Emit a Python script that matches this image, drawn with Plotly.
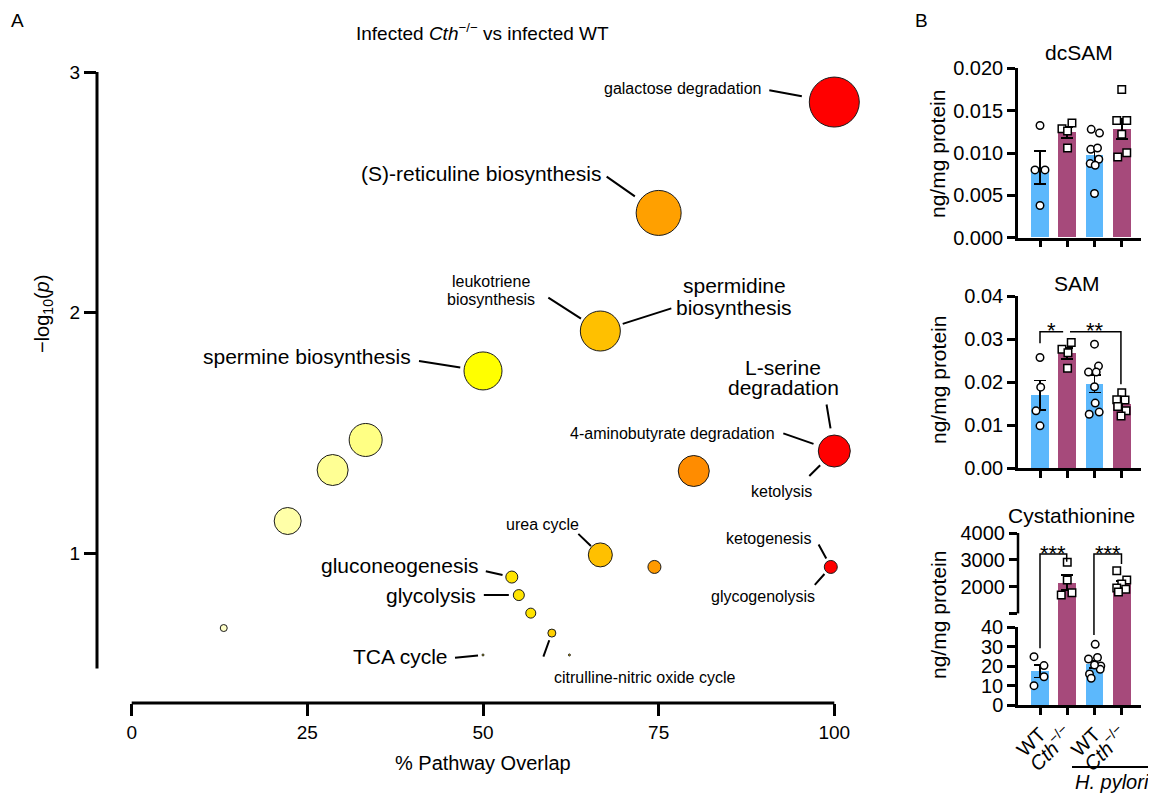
import numpy as np
import plotly.graph_objects as go

FONT = "Liberation Sans, Arial, Helvetica, sans-serif"
# the page body has an 8px margin, so the figure is drawn 8px in from the top-left corner
OX, OY = 8, 8
FIG_W, FIG_H = 1156 - OX, 793 - OY

# ---------------- Panel A data ----------------
pathway_overlap = [100, 75, 66.7, 50, 100, 80, 33.3, 28.6, 22.2, 13.1, 66.7, 74.4, 99.5,
                   54.1, 55.1, 56.8, 59.8, 50, 62.3]
neg_log10_p = [2.875, 2.414, 1.923, 1.757, 1.424, 1.341, 1.470, 1.345, 1.133, 0.688, 0.992,
               0.942, 0.942, 0.900, 0.825, 0.750, 0.667, 0.576, 0.576]
bubble_size = [50, 45, 40, 38, 32, 31, 33, 31, 27, 7, 24, 13, 13, 12, 11, 10, 8, 2, 2]
bubble_color = ["#FF0000", "#FFA000", "#FFC000", "#FFFF00", "#FF0000", "#FF8C00", "#FFFF84",
                "#FFFF94", "#FFFFA8", "#FFFFC8", "#FFC000", "#FF9A00", "#FF0000", "#FFE400",
                "#FFE400", "#FFE400", "#FFD000", "#FFF000", "#FFD000"]

# label text, bubble index, font size, text offsets (px, per line), leader tail offset (px), standoff (px)
pathway_labels = [
    (["galactose degradation"], 0, 16, [(-151.5, -14)], (-66, -12), 33),
    (["(S)-reticuline biosynthesis"], 1, 21, [(-178, -39)], (-53, -37), 29),
    (["spermidine", "biosynthesis"], 2, 21, [(134, -46), (134, -24)], (72, -23), 23.5),
    (["leukotriene", "biosynthesis"], 2, 16, [(-109, -50), (-109, -32)], (-53, -34), 23),
    (["spermine biosynthesis"], 3, 21, [(-176, -14)], (-65, -10), 23),
    (["L-serine", "degradation"], 4, 21, [(-51, -84), (-51, -64)], (-8, -48), 23),
    (["4-aminobutyrate degradation"], 4, 16, [(-162, -18)], (-52, -18), 22),
    (["ketolysis"], 4, 16, [(-53, 40)], (-26, 26), 20),
    (["urea cycle"], 10, 16, [(-58, -30)], (-23, -22), 13),
    (["ketogenesis"], 12, 16, [(-62, -28)], (-13, -24), 9.5),
    (["glycogenolysis"], 12, 16, [(-68, 30)], (-17, 19), 9.5),
    (["gluconeogenesis"], 13, 21, [(-111.5, -12)], (-27, -6), 9.5),
    (["glycolysis"], 14, 21, [(-88, 0)], (-36, 0), 10),
    (["TCA cycle"], 17, 21, [(-82.5, 2)], (-29, 3), 5),
    (["citrulline-nitric oxide cycle"], 16, 16, [(93, 44)], (-9, 25), 7.6),
]

# ---------------- Panel B data ----------------
group_labels = ["WT", "<i>Cth</i><sup>−/−</sup>", "WT", "<i>Cth</i><sup>−/−</sup>"]
group_marker = ["circle", "square", "circle", "square"]
bar_colors = ["#5CB8FC", "#A64A7B", "#5CB8FC", "#A64A7B"]

dcsam_values = [
    [0.01325, 0.0080, 0.0080, 0.0038],
    [0.01286, 0.01353, 0.01259, 0.01059],
    [0.01279, 0.01235, 0.01043, 0.01059, 0.00875, 0.00926, 0.00855, 0.00522],
    [0.01749, 0.01384, 0.01384, 0.0122, 0.00953, 0.01004],
]
dcsam_jitter = [[0, -5, 5, 0], [-5.3, 4.7, 0.3, 0.3], [-3.3, 5, -3.7, 3, -4.3, 4.3, 0.7, 0],
                [0, -5, 5, 0, -4, 5]]

sam_values = [
    [0.0257, 0.0188, 0.0133, 0.0098],
    [0.0276, 0.0292, 0.0268, 0.0232],
    [0.0288, 0.0237, 0.0223, 0.0223, 0.0189, 0.0151, 0.0125, 0.0130],
    [0.0175, 0.0159, 0.0158, 0.0143, 0.0133, 0.0121],
]
sam_jitter = [[0, 0.7, -4, 0], [-5.3, 4, 0.7, 0.3], [0, 4, -6, 1.7, 0, 0.7, -5.3, 4.7],
              [0, -5, 3.3, -4, 4.3, -0.7]]

cys_values = [
    [24.8, 20.2, 14.5, 9.9],
    [2907, 2246, 1687, 1772],
    [31.1, 23.6, 24.4, 20.0, 18.3, 15.9, 13.7, 20.5],
    [2593, 2246, 2100, 1950, 1900, 1800],
]
cys_jitter = [[-6, 4, 4, -6], [0, 0, -6, 4.7], [0.7, -6, 3, 6.3, 5.7, -5, -3.3, 0],
              [-5, 5, 0, -5, 4, -3.3]]

# ---------------- layout helpers (window pixel -> paper) ----------------
def pxx(p):
    return (p - OX) / FIG_W


def pxy(p):
    return 1 - (p - OY) / FIG_H


# panel A axis geometry
XA_ZERO_PX, XA_PPU = 131.7, 7.026
YA_ONE_PX, YA_PPU = 553.0, 240.5
xa_dom_px = (97, 870)
ya_dom_px = (703, 60)
xa_range = [(xa_dom_px[0] - XA_ZERO_PX) / XA_PPU, (xa_dom_px[1] - XA_ZERO_PX) / XA_PPU]
ya_range = [1 - (ya_dom_px[0] - YA_ONE_PX) / YA_PPU, 1 + (YA_ONE_PX - ya_dom_px[1]) / YA_PPU]

# panel B geometry
CAT0_PX, CAT_PPU = 1040.0, 27.25
xb_dom_px = (1018, 1141)
xb_range = [(xb_dom_px[0] - CAT0_PX) / CAT_PPU, (xb_dom_px[1] - CAT0_PX) / CAT_PPU]
y2_dom_px, y2_range = (237.7, 68.3), [0, 0.020]
y3_dom_px, y3_range = (468, 296), [0, 0.04]
y4_dom_px = (627, 533)
y4_range = [4000 - (y4_dom_px[0] - y4_dom_px[1]) / 26.8 * 1000, 4000]
y5_dom_px, y5_range = (705, 627), [0, 40]


def to_paper(v, dom_px, rng):
    d0, d1 = pxy(dom_px[0]), pxy(dom_px[1])
    return d0 + (v - rng[0]) / (rng[1] - rng[0]) * (d1 - d0)


fig = go.Figure()

# ---------------- Panel A ----------------
fig.add_trace(go.Scatter(
    x=pathway_overlap, y=neg_log10_p, mode="markers", xaxis="x", yaxis="y",
    marker=dict(size=bubble_size, color=bubble_color, opacity=1,
                line=dict(color="#1a1a1a", width=1)),
    cliponaxis=False, hoverinfo="skip"))

annotations = []
shapes = []

for lines, bi, fs, toffs, tail, stand in pathway_labels:
    bx, by = pathway_overlap[bi], neg_log10_p[bi]
    for txt_, (dx, dy) in zip(lines, toffs):
        annotations.append(dict(x=bx, y=by, xref="x", yref="y", text=txt_, showarrow=False,
                                xshift=dx, yshift=-dy, xanchor="center", yanchor="middle",
                                font=dict(size=fs, family=FONT, color="black")))
    annotations.append(dict(x=bx, y=by, xref="x", yref="y", text=" ", showarrow=True,
                            ax=tail[0], ay=tail[1], axref="pixel", ayref="pixel",
                            arrowhead=0, arrowwidth=2, arrowcolor="black", standoff=stand,
                            borderpad=0, font=dict(size=2, color="rgba(0,0,0,0)")))

# axis lines panel A
shapes.append(dict(type="line", xref="x", yref="y domain", x0=0, x1=100, y0=0, y1=0,
                   line=dict(color="black", width=3)))
shapes.append(dict(type="line", xref="x domain", yref="y", x0=0, x1=0, y0=0.52, y1=3,
                   line=dict(color="black", width=3)))

# ---------------- Panel B ----------------
panels = [
    ("x2", "y2", dcsam_values, dcsam_jitter),
    ("x3", "y3", sam_values, sam_jitter),
    ("x4", "y4", cys_values, cys_jitter),
    ("x5", "y5", cys_values, cys_jitter),
]
for xa, ya, vals, jit in panels:
    means = [float(np.mean(v)) for v in vals]
    sems = [float(np.std(v, ddof=1) / np.sqrt(len(v))) for v in vals]
    fig.add_trace(go.Bar(
        x=[0, 1, 2, 3], y=means, xaxis=xa, yaxis=ya, width=0.66,
        marker=dict(color=bar_colors, line=dict(width=0)),
        error_y=dict(type="data", array=sems, visible=True, color="black",
                     thickness=1.8, width=6),
        hoverinfo="skip"))
    for g in range(4):
        fig.add_trace(go.Scatter(
            x=[g + j / CAT_PPU for j in jit[g]], y=vals[g], xaxis=xa, yaxis=ya,
            mode="markers",
            marker=dict(symbol=group_marker[g], size=7.5, color="white",
                        line=dict(color="black", width=1.5)),
            hoverinfo="skip"))

# SAM significance brackets (data coords)
sam_brackets = [  # x0, x1, top, left leg end, right leg end, label
    (0.0, 0.85, 0.0317, 0.0290, None, "*"),
    (1.1, 2.97, 0.0317, None, 0.0195, "**"),
]
for x0, x1, yt, yl, yr, lab in sam_brackets:
    p = (f"M {x0},{yl if yl is not None else yt} L {x0},{yt} L {x1},{yt} "
         f"L {x1},{yr if yr is not None else yt}")
    shapes.append(dict(type="path", xref="x3", yref="y3", path=p,
                       line=dict(color="black", width=1.5)))
    annotations.append(dict(x=(x0 + x1) / 2, y=yt, xref="x3", yref="y3", text=lab,
                            showarrow=False, yanchor="middle", yshift=1,
                            font=dict(size=22, family=FONT, color="black")))

# Cystathionine brackets (y in upper 'u' or lower 'l' axis values)
cys_brackets = [  # x0, x1, top(upper), left leg (axis, value), right leg (axis, value)
    (0.0, 0.98, 3213, ("l", 29.1), ("u", 2929), "***"),
    (1.98, 2.99, 3213, ("l", 35.9), ("u", 2843), "***"),
]


def cys_paper(ax_val):
    ax, v = ax_val
    if ax == "u":
        return to_paper(v, y4_dom_px, y4_range)
    return to_paper(v, y5_dom_px, y5_range)


for x0, x1, top, lleg, rleg, lab in cys_brackets:
    yt = to_paper(top, y4_dom_px, y4_range)
    p = f"M {x0},{cys_paper(lleg)} L {x0},{yt} L {x1},{yt} L {x1},{cys_paper(rleg)}"
    shapes.append(dict(type="path", xref="x5", yref="paper", path=p,
                       line=dict(color="black", width=1.5)))
    annotations.append(dict(x=(x0 + x1) / 2, y=yt, xref="x5", yref="paper", text=lab,
                            showarrow=False, yanchor="middle", yshift=1,
                            font=dict(size=22, family=FONT, color="black")))

# upper cystathionine axis line (1000 - 4000)
shapes.append(dict(type="line", xref="x4 domain", yref="y4", x0=0, x1=0, y0=1000, y1=4000,
                   line=dict(color="black", width=2.5)))

# H. pylori bar
shapes.append(dict(type="line", xref="paper", yref="paper", x0=pxx(1072), x1=pxx(1148),
                   y0=pxy(767), y1=pxy(767), line=dict(color="black", width=2)))

# ---------------- text annotations ----------------
def txt(x, y, s, size=20, angle=0, yanchor="middle"):
    annotations.append(dict(x=pxx(x), y=pxy(y), xref="paper", yref="paper", text=s,
                            showarrow=False, xanchor="center", yanchor=yanchor,
                            textangle=angle, font=dict(size=size, family=FONT, color="black")))


txt(17, 8, "A", 19, yanchor="top")
txt(921, 8, "B", 19, yanchor="top")
txt(482, 32, "Infected <i>Cth</i><sup>−/−</sup> vs infected WT", 19)
txt(483, 763, "% Pathway Overlap", 20)
txt(43, 314, "−log<sub>10</sub>(<i>p</i>)", 20, -90)
txt(1079, 53, "dcSAM", 21)
txt(1076.5, 283.5, "SAM", 21)
txt(1071.5, 515, "Cystathionine", 21)
for yc in (154, 380, 615):
    txt(938, yc, "ng/mg protein", 21, -90)
txt(1111.5, 782, "<i>H. pylori</i>", 20)

# ---------------- axes ----------------
common_tick = dict(ticks="outside", tickcolor="black", showgrid=False, zeroline=False,
                   automargin=False)

layout = dict(
    template="none",
    width=FIG_W, height=FIG_H, margin=dict(l=0, r=0, t=0, b=0, pad=0, autoexpand=False),
    paper_bgcolor="white", plot_bgcolor="rgba(0,0,0,0)", showlegend=False,
    font=dict(family=FONT, color="black"),
    annotations=annotations, shapes=shapes, bargap=0,
    xaxis=dict(domain=[pxx(xa_dom_px[0]), pxx(xa_dom_px[1])], range=xa_range, anchor="y",
               showline=False, tickvals=[0, 25, 50, 75, 100], ticklen=12, tickwidth=3,
               tickfont=dict(size=19), **common_tick),
    yaxis=dict(domain=[pxy(ya_dom_px[0]), pxy(ya_dom_px[1])], range=ya_range, anchor="x",
               showline=False, tickvals=[1, 2, 3], ticklen=12, tickwidth=3,
               tickfont=dict(size=19), **common_tick),
)

xb_common = dict(domain=[pxx(xb_dom_px[0]), pxx(xb_dom_px[1])], range=xb_range,
                 showline=True, linecolor="black", linewidth=2.5, tickvals=[0, 1, 2, 3],
                 ticklen=7, tickwidth=2.5, **common_tick)
layout["xaxis2"] = dict(anchor="y2", showticklabels=False, **xb_common)
layout["xaxis3"] = dict(anchor="y3", showticklabels=False, **xb_common)
layout["xaxis4"] = dict(anchor="y4", domain=[pxx(xb_dom_px[0]), pxx(xb_dom_px[1])],
                        range=xb_range, visible=False)
layout["xaxis5"] = dict(anchor="y5", showticklabels=True, ticktext=group_labels,
                        tickangle=-45, tickfont=dict(size=20), **xb_common)

yb_common = dict(linecolor="black", linewidth=2.5, ticklen=8, tickwidth=2.5,
                 tickfont=dict(size=20), **common_tick)
dc_ticks = [0, 0.005, 0.010, 0.015, 0.020]
layout["yaxis2"] = dict(anchor="x2", domain=[pxy(y2_dom_px[0]), pxy(y2_dom_px[1])],
                        range=y2_range, showline=True, tickvals=dc_ticks,
                        ticktext=[f"{v:.3f}" for v in dc_ticks], **yb_common)
sam_ticks = [0, 0.01, 0.02, 0.03, 0.04]
layout["yaxis3"] = dict(anchor="x3", domain=[pxy(y3_dom_px[0]), pxy(y3_dom_px[1])],
                        range=y3_range, showline=True, tickvals=sam_ticks,
                        ticktext=[f"{v:.2f}" for v in sam_ticks], **yb_common)
up_ticks = [1000, 2000, 3000, 4000]
layout["yaxis4"] = dict(anchor="x4", domain=[pxy(y4_dom_px[0]), pxy(y4_dom_px[1])],
                        range=y4_range, showline=False, tickvals=up_ticks,
                        ticktext=["", "2000", "3000", "4000"], **yb_common)
lo_ticks = [0, 10, 20, 30, 40]
layout["yaxis5"] = dict(anchor="x5", domain=[pxy(y5_dom_px[0]), pxy(y5_dom_px[1])],
                        range=y5_range, showline=True, tickvals=lo_ticks,
                        ticktext=[str(v) for v in lo_ticks], **yb_common)

fig.update_layout(**layout)
fig.write_html("out.html")
